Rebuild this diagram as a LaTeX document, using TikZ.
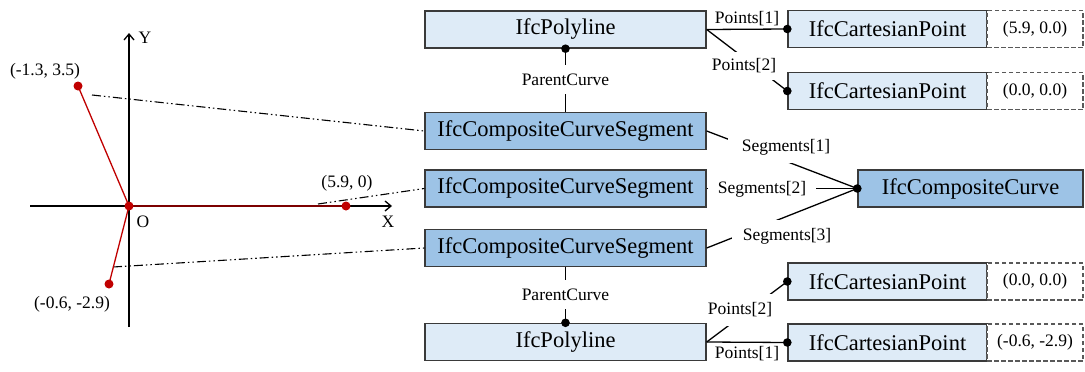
\documentclass[tikz,border=0pt]{standalone}
\usepackage{fontspec}
\setmainfont{Liberation Serif}
\usetikzlibrary{arrows.meta}
\definecolor{boxline}{HTML}{3A3A3A}
\definecolor{lightfill}{HTML}{DEEBF7}
\definecolor{midfill}{HTML}{9DC3E6}
\definecolor{curvered}{HTML}{C00000}
\definecolor{valline}{HTML}{595959}

\begin{document}
\begin{tikzpicture}[x=1pt,y=-1pt,
  entity/.style={draw=boxline, line width=1.4pt, minimum height=37pt, inner sep=0pt,
                 font=\fontsize{22.5}{26}\selectfont},
  light/.style={entity, fill=lightfill},
  dark/.style={entity, fill=midfill},
  wide/.style={minimum width=281pt},
  ptbox/.style={light, minimum width=199pt},
  value/.style={draw=valline, dash pattern=on 4.5pt off 2.5pt, line width=1.1pt, fill=white,
                minimum width=96pt, minimum height=37pt, inner sep=0pt,
                font=\fontsize{17.5}{20}\selectfont},
  small/.style={font=\fontsize{17.5}{20}\selectfont},
  role/.style={small, fill=white, inner sep=2pt},
  link/.style={line width=1.3pt},
  trace/.style={line width=1.1pt, dash pattern=on 9pt off 3pt on 1.5pt off 3pt on 1.5pt off 3pt},
  axis/.style={line width=1.3pt, -{Straight Barb[length=6pt,width=10pt,line width=1.3pt]}},
  curve/.style={curvered, line width=1.3pt},
  dotmark/.style={fill=black},
  reddot/.style={fill=curvered}
]
\useasboundingbox (0,0) rectangle (1085,372);

% ---- coordinate sketch of the composite curve ----
\coordinate (xl) at (30,206);
\coordinate (xr) at (392,206);
\coordinate (yb) at (129,327);
\coordinate (yt) at (129,33);
\coordinate (O) at (129,206);
\coordinate (P1) at (78,86);
\coordinate (P2) at (346,206);
\coordinate (P3) at (109,284);
\coordinate (t1) at (92,95);
\coordinate (t2) at (318,204);
\coordinate (t3) at (113,267);

\draw[axis] (xl) -- (xr);
\draw[axis] (yb) -- (yt);
\node[small] (ylab) at (145,38) {Y};
\node[small] (xlab) at (388,222) {X};
\node[small] (olab) at (143,222) {O};

% ---- entity boxes ----
\node[light, wide] (poly1) at (565.5,29.5) {IfcPolyline};
\node[dark, wide]  (seg1)  at (565.5,131)  {IfcCompositeCurveSegment};
\node[dark, wide]  (seg2)  at (565.5,188.5) {IfcCompositeCurveSegment};
\node[dark, wide]  (seg3)  at (565.5,248)  {IfcCompositeCurveSegment};
\node[light, wide] (poly2) at (565.5,342)  {IfcPolyline};

\node[ptbox] (pt1) at (887.5,29)    {IfcCartesianPoint};
\node[ptbox] (pt2) at (887.5,91)    {IfcCartesianPoint};
\node[ptbox] (pt3) at (887.5,281.5) {IfcCartesianPoint};
\node[ptbox] (pt4) at (887.5,342.5) {IfcCartesianPoint};
\node[value] (v1) at (1035,29)    {(5.9, 0.0)};
\node[value] (v2) at (1035,91)    {(0.0, 0.0)};
\node[value] (v3) at (1035,281.5) {(0.0, 0.0)};
\node[value] (v4) at (1035,342.5) {(-0.6, -2.9)};

\node[dark, minimum width=225pt] (cc) at (970.5,188.5) {IfcCompositeCurve};

% ---- traces from the sketch to the segments ----
\draw[trace] (t1) -- (seg1.west);
\draw[trace] (t2) -- (seg2.west);
\draw[trace] (t3) -- (seg3.west);

% ---- the polylines themselves ----
\draw[curve] (P1) -- (O) -- (P2);
\draw[curve] (O) -- (P3);
\foreach \p in {P1,P2,P3,O} \fill[reddot] (\p) circle (4.5pt);
\node[small] (p1lab) at (45,71)  {(-1.3, 3.5)};
\node[small] (p2lab) at (347,183) {(5.9, 0)};
\node[small] (p3lab) at (72,304) {(-0.6, -2.9)};

% ---- attribute links ----
\draw[link] (seg1.north) -- (poly1.south);
\node[role, inner ysep=9pt] (pc1) at (565.5,79.5) {ParentCurve};
\draw[link] (seg3.south) -- (poly2.north);
\node[role, inner ysep=9pt] (pc2) at (565.5,294.5) {ParentCurve};

\draw[link] (poly1.east) -- (pt1.west) node[small, midway, above, inner sep=3pt] (a1) {Points[1]};
\draw[link] (poly1.east) -- (pt2.west);
\node[role, inner ysep=7pt] (a2) at (744,66) {Points[2]};
\draw[link] (poly2.east) -- (pt3.west);
\node[role, inner ysep=9pt, inner xsep=1pt] (a3) at (740,310) {Points[2]};
\draw[link] (poly2.east) -- (pt4.west) node[small, midway, below, inner sep=3pt] (a4) {Points[1]};

\draw[link] (seg1.east) -- (cc.west);
\node[role, inner xsep=14pt, inner ysep=8pt] (s1) at (786,147) {Segments[1]};
\draw[link] (seg2.east) -- (cc.west);
\node[role, inner xsep=10pt] (s2) at (762,189) {Segments[2]};
\draw[link] (seg3.east) -- (cc.west);
\node[role, inner xsep=11pt, inner ysep=9pt] (s3) at (787,236.5) {Segments[3]};

% ---- reference dots ----
\foreach \a in {poly1.south, poly2.north, pt1.west, pt2.west, pt3.west, pt4.west, cc.west}
  \fill[dotmark] (\a) circle (4.3pt);
\end{tikzpicture}
\end{document}
